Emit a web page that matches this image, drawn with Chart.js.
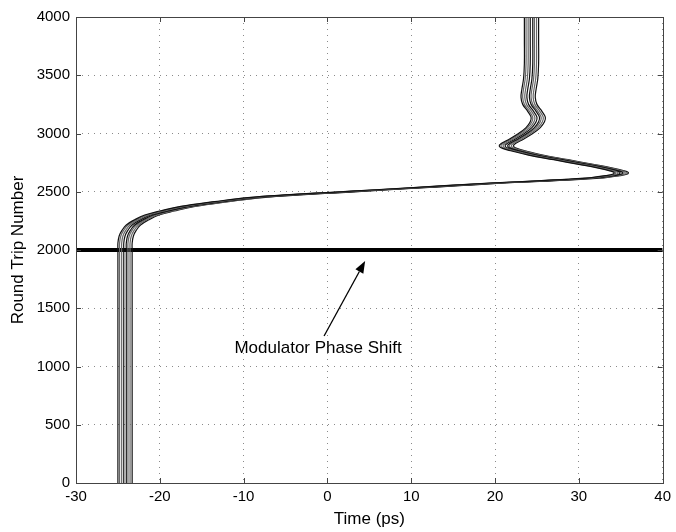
<!DOCTYPE html>
<html>
<head>
<meta charset="utf-8">
<script src="https://cdn.jsdelivr.net/npm/chart.js@4/dist/chart.umd.min.js"></script>
<style>
  html, body { margin: 0; padding: 0; background: #fff; }
  #wrap { width: 676px; height: 532px; }
</style>
</head>
<body>
<div id="wrap"><canvas id="roundTripChart" width="676" height="532"></canvas></div>
<script>
// pulse position (leftmost trace of the bundle) vs round trip number
var pulseTime = [-25.0, -25.0, -25.0, -25.0, -24.85, -24.5, -24.0, -23.0, -21.8, -20.0,
	-17.5, -13.5, -9.5, -4.5, 0.5, 5.2, 9.3, 14.0, 19.4, 24.5,
	28.5, 31.5, 33.2, 34.1, 34.2, 33.6, 32.2, 30.0, 27.0, 24.0,
	22.0, 20.9, 20.5, 20.7, 21.4, 22.8, 23.7, 24.2, 24.3, 23.9,
	23.3, 23.1, 23.2, 23.4, 23.5, 23.5, 23.5];
var roundTrip = [0, 1000, 2000, 2060, 2120, 2170, 2215, 2260, 2300, 2335,
	2375, 2415, 2450, 2475, 2495, 2515, 2532, 2552, 2575, 2592,
	2607, 2622, 2638, 2652, 2666, 2682, 2705, 2735, 2775, 2815,
	2850, 2872, 2892, 2912, 2940, 3000, 3050, 3100, 3140, 3190,
	3250, 3310, 3380, 3470, 3600, 3800, 4000];
// spacing of the traces inside the two bands of the bundle (ps)
var bundleOffsets = [0, 0.2, 0.45, 0.7, 1.0, 1.2, 1.45, 1.7];

var phaseShiftRound = 2000;
var timeTicks = [-30, -20, -10, 0, 10, 20, 30, 40];
var roundTicks = [0, 500, 1000, 1500, 2000, 2500, 3000, 3500, 4000];

var FONT = "'Liberation Sans', Arial, Helvetica, sans-serif";

var datasets = [];
bundleOffsets.forEach(function(off, k) {
	var pts = [];
	for (var i = 0; i < pulseTime.length; i++) {
		pts.push({ x: pulseTime[i] + off, y: roundTrip[i] });
	}
	// band edges darker, inner traces grey
	var edge = (k == 0 || k == 3 || k == 4 || k == 7);
	datasets.push({
		data: pts,
		showLine: true,
		borderColor: edge ? '#111' : '#666',
		borderWidth: 1.2,
		pointRadius: 0,
		tension: 0.4,
		fill: false
	});
});

datasets.push({
	data: [
		{ x: timeTicks[0], y: phaseShiftRound },
		{ x: timeTicks[timeTicks.length - 1], y: phaseShiftRound }
	],
	showLine: true,
	borderColor: '#000',
	borderWidth: 4,
	pointRadius: 0,
	tension: 0
});

// box round the plot, inward tick marks, and the arrow note
var matlabFrame = {
	id: 'matlabFrame',
	afterDraw: function(chart) {
		var ctx = chart.ctx, a = chart.chartArea;
		var xs = chart.scales.x, ys = chart.scales.y;
		ctx.save();
		ctx.strokeStyle = '#444';
		ctx.lineWidth = 1;
		ctx.strokeRect(Math.round(a.left) + 0.5, Math.round(a.top) + 0.5,
			Math.round(a.right - a.left) , Math.round(a.bottom - a.top));

		ctx.beginPath();
		timeTicks.forEach(function(t) {
			var px = Math.round(xs.getPixelForValue(t)) + 0.5;
			ctx.moveTo(px, a.bottom); ctx.lineTo(px, a.bottom - 5);
			ctx.moveTo(px, a.top); ctx.lineTo(px, a.top + 5);
		});
		roundTicks.forEach(function(r) {
			var py = Math.round(ys.getPixelForValue(r)) + 0.5;
			ctx.moveTo(a.left, py); ctx.lineTo(a.left + 5, py);
			ctx.moveTo(a.right, py); ctx.lineTo(a.right - 5, py);
		});
		ctx.stroke();

		// note
		ctx.fillStyle = '#000';
		ctx.font = '17px ' + FONT;
		ctx.textAlign = 'left';
		ctx.textBaseline = 'alphabetic';
		ctx.fillText('Modulator Phase Shift', xs.getPixelForValue(-11.1), ys.getPixelForValue(1116));

		var x1 = xs.getPixelForValue(-0.4), y1 = ys.getPixelForValue(1262);
		var x2 = xs.getPixelForValue(4.5), y2 = ys.getPixelForValue(1906);
		var ang = Math.atan2(y2 - y1, x2 - x1);
		var hl = 12, hw = 4.5;
		ctx.strokeStyle = '#000';
		ctx.lineWidth = 1.3;
		ctx.beginPath();
		ctx.moveTo(x1, y1);
		ctx.lineTo(x2 - hl * Math.cos(ang), y2 - hl * Math.sin(ang));
		ctx.stroke();
		ctx.beginPath();
		ctx.moveTo(x2, y2);
		ctx.lineTo(x2 - hl * Math.cos(ang) + hw * Math.sin(ang), y2 - hl * Math.sin(ang) - hw * Math.cos(ang));
		ctx.lineTo(x2 - hl * Math.cos(ang) - hw * Math.sin(ang), y2 - hl * Math.sin(ang) + hw * Math.cos(ang));
		ctx.closePath();
		ctx.fill();
		ctx.restore();
	}
};

function plainTick(v) { return String(v); }

var chart = new Chart(document.getElementById('roundTripChart'), {
	type: 'scatter',
	data: { datasets: datasets },
	options: {
		responsive: false,
		animation: false,
		layout: { padding: { top: 17, right: 9, left: 0, bottom: 0 } },
		plugins: { legend: { display: false }, tooltip: { enabled: false } },
		scales: {
			x: {
				type: 'linear',
				min: -30, max: 40,
				afterBuildTicks: function(scale) {
					scale.ticks = timeTicks.map(function(v) { return { value: v }; });
				},
				afterFit: function(scale) { scale.height = 49; },
				grid: { color: '#8a8a8a', lineWidth: 1, drawTicks: false },
				border: { display: false, dash: [1, 5] },
				ticks: {
					color: '#000', padding: 5, maxRotation: 0,
					callback: plainTick,
					font: { family: FONT, size: 15 }
				},
				title: {
					display: true, text: 'Time (ps)', color: '#000',
					padding: { top: 0, bottom: 2 },
					font: { family: FONT, size: 17 }
				}
			},
			y: {
				type: 'linear',
				min: 0, max: 4000,
				afterBuildTicks: function(scale) {
					scale.ticks = roundTicks.map(function(v) { return { value: v }; });
				},
				afterFit: function(scale) { scale.width = 76; },
				grid: { color: '#8a8a8a', lineWidth: 1, drawTicks: false },
				border: { display: false, dash: [1, 5] },
				ticks: {
					color: '#000', padding: 6,
					callback: plainTick,
					font: { family: FONT, size: 15 }
				},
				title: {
					display: true, text: 'Round Trip Number', color: '#000',
					padding: { top: 8, bottom: 0 },
					font: { family: FONT, size: 17 }
				}
			}
		}
	},
	plugins: [matlabFrame]
});
</script>
</body>
</html>
